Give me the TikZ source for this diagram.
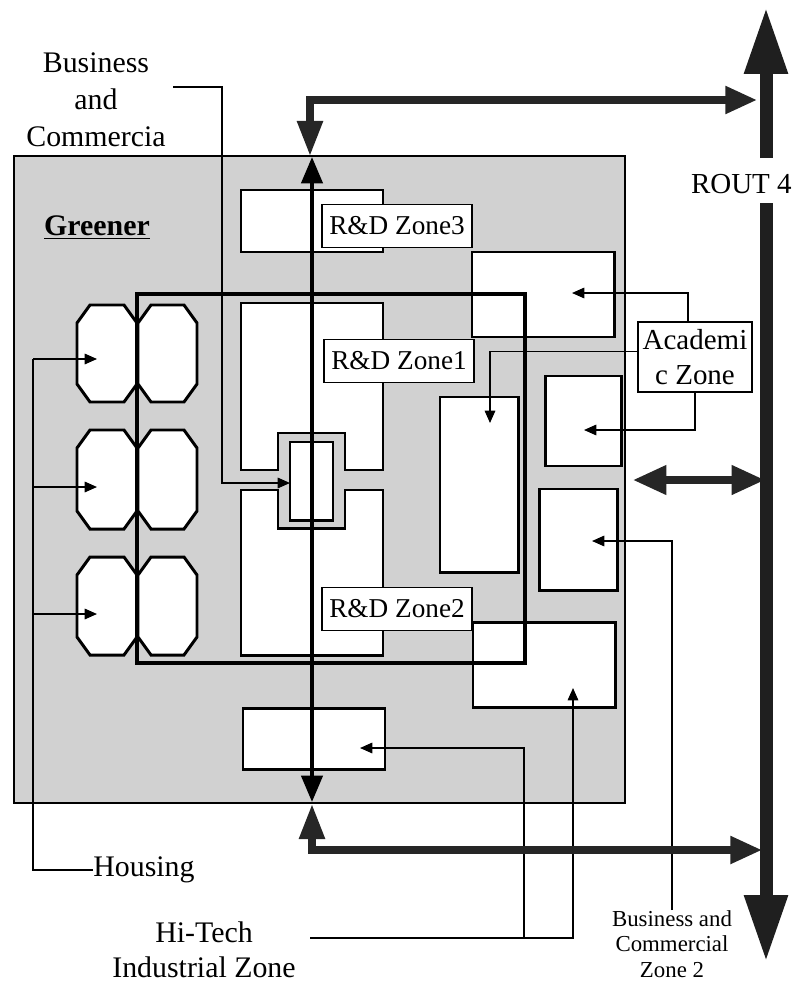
\documentclass[tikz,border=0pt]{standalone}
\usepackage{fontspec}
\setmainfont{Liberation Serif}
\usetikzlibrary{arrows.meta}

\begin{document}
\begin{tikzpicture}[
        x=0.02cm, y=-0.02cm,
        zone/.style={
            font=\fontsize{17}{21}\selectfont, align=center, inner sep=0pt
        },
        tag/.style={
            draw=black, line width=1pt, fill=white, inner sep=2pt,
            minimum width=85pt, minimum height=24.5pt, font=\fontsize{15.5}{18}\selectfont
        },
        bldg/.style={draw=black, line width=1.7pt, fill=white},
        frame/.style={draw=black, line width=2.3pt},
        link/.style={draw=black, line width=0.8pt},
        conn/.style={link, -{Triangle[length=7pt,width=6pt]}},
        road/.style={draw=black!85, line width=4pt},
        rout/.style={draw=black!88, line width=7.4pt}
    ]
    \useasboundingbox (0,0) rectangle (792,987);

    % Greener site
    \filldraw[fill=black!18, draw=black, line width=1.2pt] (14,156) rectangle (625,803);
    \node[zone, font=\bfseries\fontsize{17}{21}\selectfont] (greener) at (97,228) {\underline{Greener}};

    % Housing blocks
    \foreach \ya/\yb in {305/402, 430/529, 557/655}{
        \foreach \xa/\xb in {77/137, 138/197}{
            \filldraw[bldg] (\xa+13,\ya) -- (\xb-13,\ya) -- (\xb,\ya+18) -- (\xb,\yb-18)
                -- (\xb-13,\yb) -- (\xa+13,\yb) -- (\xa,\yb-18) -- (\xa,\ya+18) -- cycle;
        }
    }

    % R&D blocks
    \filldraw[bldg] (241,190) rectangle (383,252);
    \filldraw[bldg] (241,303) -- (383,303) -- (383,470) -- (345,470) -- (345,433)
        -- (278,433) -- (278,470) -- (241,470) -- cycle;
    \filldraw[bldg] (241,490) -- (278,490) -- (278,528) -- (345,528) -- (345,490)
        -- (383,490) -- (383,655) -- (241,655) -- cycle;
    \filldraw[bldg] (290,442) rectangle (333,520);
    \filldraw[bldg] (472,252) rectangle (614,337);
    \filldraw[bldg] (440,397) rectangle (518,572);
    \filldraw[bldg] (545,376) rectangle (621,466);
    \filldraw[bldg] (539,489) rectangle (617,590);
    \filldraw[bldg] (473,622) rectangle (615,707);
    \filldraw[bldg] (243,708) rectangle (385,769);

    % Inner frame
    \draw[frame] (137,294) rectangle (525,663);

    % Spine road
    \draw[line width=2.3pt, {Triangle[length=15pt,width=12pt]}-{Triangle[length=15pt,width=12pt]}]
        (312,157) -- (312,802);

    % Zone tags
    \node[tag] (rd3) at (397,226) {R\&D Zone3};
    \node[tag] (rd1) at (399,361) {R\&D Zone1};
    \node[tag] (rd2) at (397,609) {R\&D Zone2};
    \node[tag, minimum width=65pt, minimum height=40pt, inner sep=1pt,
        font=\fontsize{16.5}{20}\selectfont, align=center] (acad) at (695,357) {Academi\\c Zone};

    % Outside labels
    \node[zone] (bc) at (96,100) {Business\\and\\Commercia};
    \node[zone, anchor=west] (housing) at (93,870) {Housing};
    \node[zone, font=\fontsize{17}{20}\selectfont] (hitech) at (204,950) {Hi-Tech\\Industrial Zone};
    \node[zone, font=\fontsize{13}{14.5}\selectfont] (bcz) at (672,944) {Business and\\Commercial\\Zone 2};
    \node[zone, anchor=east, font=\fontsize{16.5}{20}\selectfont] (rout4) at (792,184) {ROUT 4};

    % Arrow targets
    \coordinate (hspine) at (33,359);
    \coordinate (hs1) at (97,359);
    \coordinate (hs2) at (97,487);
    \coordinate (hs3) at (97,614);
    \coordinate (bcout) at (173,87);
    \coordinate (core) at (290,483);
    \coordinate (rdtop) at (572,293);
    \coordinate (rdmid) at (490,423);
    \coordinate (acA) at (584,430);
    \coordinate (bzB) at (592,541);
    \coordinate (htout) at (310,938);
    \coordinate (htfork) at (524,938);
    \coordinate (rdlow) at (573,688);
    \coordinate (hilow) at (360,748);

    % Connectors
    \draw[link] (housing.west) -| (hspine);
    \foreach \i in {1,2,3}
        \draw[conn] (hspine |- hs\i) -- (hs\i);
    \draw[conn] (bcout) -| (222,483) -- (core);
    \draw[conn] ([xshift=-4pt]acad.north) |- (rdtop);
    \draw[conn] ([yshift=3pt]acad.west) -| (rdmid);
    \draw[conn] (acad.south) |- (acA);
    \draw[conn] (bcz.north) |- (bzB);
    \draw[conn] (htout) -| (rdlow);
    \draw[conn] (htfork) |- (hilow);

    % Roads
    \draw[road, {Triangle[length=20pt,width=14pt]}-{Triangle[length=18pt,width=15pt]}]
        (310,156) -- (310,100) -- (757,100);
    \draw[road, {Triangle[length=20pt,width=14pt]}-{Triangle[length=18pt,width=15pt]}]
        (312,804) -- (312,850) -- (762,850);
    \draw[road, {Triangle[length=19pt,width=16pt]}-{Triangle[length=19pt,width=16pt]}]
        (633,480) -- (765,480);
    \draw[rout, -{Triangle[length=38pt,width=23pt]}] (766,158) -- (766,7);
    \draw[rout, -{Triangle[length=38pt,width=23pt]}] (766,203) -- (766,962);

\end{tikzpicture}
\end{document}
